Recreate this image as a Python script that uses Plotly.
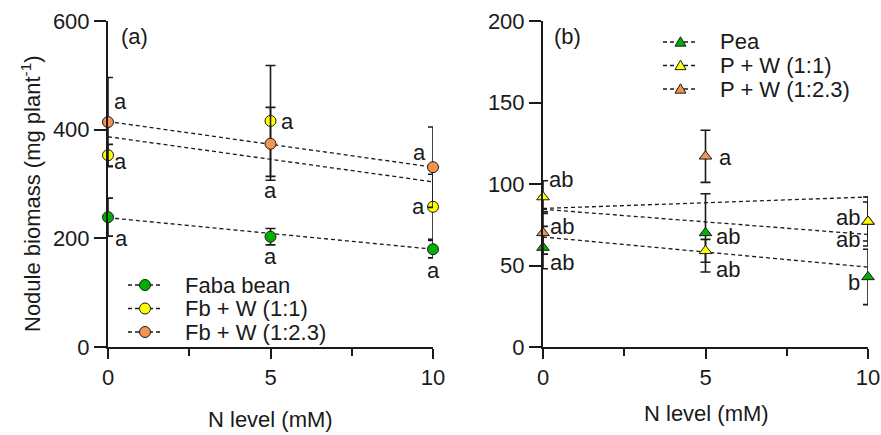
import plotly.graph_objects as go

# ---------------- data ----------------
N_levels = [0, 5, 10]

# Panel (a) nodule biomass (mg plant-1)
faba = [239, 203, 180]
faba_err = [35, 15, 16]
fbw11 = [353, 416, 258]
fbw11_err = [20, 102, 60]
fbw123 = [414, 374, 331]
fbw123_err = [82, 67, 74]

# Panel (b)
pea = [61, 70, 43]
pea_err = [13, 24, 17]
pw11 = [92, 59, 77]
pw11_err = [10, 7, 12]
pw123 = [70, 117, 77]
pw123_err = [13, 16, 15]

# dashed trend lines (values at N = 0 and N = 10)
trend_x = [0, 10]
trend_faba = [238, 180]
trend_fbw11 = [387, 304]
trend_fbw123 = [415, 331]
trend_pea = [67.5, 49]
trend_pw11 = [84.5, 69]
trend_pw123 = [85, 92]

# significance letters
letters_faba = ["a", "a", "a"]
letters_fbw11 = ["a", "a", "a"]
letters_fbw123 = ["a", "a", "a"]
letters_pea = ["ab", "ab", "b"]
letters_pw11 = ["ab", "ab", "ab"]
letters_pw123 = ["ab", "a", "ab"]

names_a = ["Faba bean", "Fb + W (1:1)", "Fb + W (1:2.3)"]
names_b = ["Pea", "P + W (1:1)", "P + W (1:2.3)"]

# ---------------- style ----------------
PAGE_W, PAGE_H = 881, 435
OFF = 0  # page body margin is removed below
W, H = PAGE_W - OFF, PAGE_H - OFF
FONT = "Liberation Sans, Arial, sans-serif"
FS = 22
INK = "#1a1a1a"
GREEN = "#00B000"
YELLOW = "#FFFF00"
ORANGE = "#F29450"
DASH = "4px,3px"
MS = 11

# pixel layout (page pixels)
xa = (108, 433)
xb = (543, 868)
ytop, ybot = 21, 347

def px_x(p):
    return (p - OFF) / W

def px_y(p):
    return 1 - (p - OFF) / H

fig = go.Figure()

def trend(xref, yref, ys):
    fig.add_trace(go.Scatter(
        x=trend_x, y=ys, mode="lines", xaxis=xref, yaxis=yref,
        line=dict(color=INK, width=1.3, dash=DASH),
        showlegend=False, hoverinfo="skip", cliponaxis=False))

def series(xref, yref, ys, err, color, symbol, name):
    fig.add_trace(go.Scatter(
        x=N_levels, y=ys, mode="markers", xaxis=xref, yaxis=yref,
        marker=dict(color=color, size=MS, symbol=symbol,
                    line=dict(color=INK, width=1)),
        error_y=dict(type="data", array=err, visible=True, color=INK,
                     thickness=1.6, width=5),
        showlegend=False, cliponaxis=False, name=name))

# Panel (a)
trend("x", "y", trend_faba)
trend("x", "y", trend_fbw11)
trend("x", "y", trend_fbw123)
series("x", "y", faba, faba_err, GREEN, "circle", names_a[0])
series("x", "y", fbw11, fbw11_err, YELLOW, "circle", names_a[1])
series("x", "y", fbw123, fbw123_err, ORANGE, "circle", names_a[2])

# Panel (b)
trend("x2", "y2", trend_pea)
trend("x2", "y2", trend_pw11)
trend("x2", "y2", trend_pw123)
series("x2", "y2", pea, pea_err, GREEN, "triangle-up", names_b[0])
series("x2", "y2", pw123, pw123_err, ORANGE, "triangle-up", names_b[2])
series("x2", "y2", pw11, pw11_err, YELLOW, "triangle-up", names_b[1])

# ---------------- letters ----------------
annotations = []
shapes = []

def letters(xref, yref, ys, labs, offsets):
    for xv, yv, t, (dx, dy) in zip(N_levels, ys, labs, offsets):
        annotations.append(dict(
            x=xv, y=yv, xref=xref, yref=yref, text=t, showarrow=False,
            xshift=dx, yshift=-dy, font=dict(family=FONT, size=FS, color=INK),
            xanchor="center", yanchor="middle"))

letters("x", "y", faba, letters_faba, [(13, 21), (0, 20), (0, 21)])
letters("x", "y", fbw11, letters_fbw11, [(12, 6), (17, 1), (-15, 0)])
letters("x", "y", fbw123, letters_fbw123, [(12, -21), (0, 47), (-14, -15)])
letters("x2", "y2", pea, letters_pea, [(19, 15), (22, 4), (-14, 6)])
letters("x2", "y2", pw11, letters_pw11, [(18, -18), (22, 19), (-20, -4)])
letters("x2", "y2", pw123, letters_pw123, [(19, -6), (20, 1), (-20, 18)])

def text(xp, yp, t, anchor="left", angle=0):
    annotations.append(dict(x=px_x(xp), y=px_y(yp), xref="paper", yref="paper",
                            text=t, showarrow=False, xanchor=anchor, yanchor="middle",
                            textangle=angle,
                            font=dict(family=FONT, size=FS, color=INK)))

# ---------------- legends (drawn manually) ----------------
def legend_entry(x_line0, x_line1, x_text, yrow, color, symbol, name):
    shapes.append(dict(type="line", xref="paper", yref="paper",
                       x0=px_x(x_line0), x1=px_x(x_line1), y0=px_y(yrow), y1=px_y(yrow),
                       line=dict(color=INK, width=1.3, dash=DASH)))
    xc = (x_line0 + x_line1) / 2
    r = MS / 2
    if symbol == "circle":
        shapes.append(dict(type="circle", xref="paper", yref="paper",
                           x0=px_x(xc - r), x1=px_x(xc + r),
                           y0=px_y(yrow + r), y1=px_y(yrow - r),
                           fillcolor=color, line=dict(color=INK, width=1)))
    else:
        p = "M{},{} L{},{} L{},{} Z".format(
            px_x(xc - r), px_y(yrow + r * 0.75),
            px_x(xc + r), px_y(yrow + r * 0.75),
            px_x(xc), px_y(yrow - r * 0.95))
        shapes.append(dict(type="path", xref="paper", yref="paper", path=p,
                           fillcolor=color, line=dict(color=INK, width=1)))
    text(x_text, yrow, name)

rows_a = [285, 308.5, 332]
rows_b = [42, 65.5, 89]
for yrow, c, nm in zip(rows_a, [GREEN, YELLOW, ORANGE], names_a):
    legend_entry(128, 162, 183, yrow, c, "circle", nm)
for yrow, c, nm in zip(rows_b, [GREEN, YELLOW, ORANGE], names_b):
    legend_entry(663, 698, 718, yrow, c, "triangle", nm)

# panel labels
text(119, 37, "(a)")
text(552, 37, "(b)")
# axis titles
text(31, 194, "Nodule biomass (mg plant<sup>-1</sup>)", anchor="center", angle=-90)
text(270, 419, "N level (mM)", anchor="center")
text(706, 413, "N level (mM)", anchor="center")

axis_common = dict(showgrid=False, zeroline=False, showline=True, linecolor=INK,
                   linewidth=2, ticks="outside", tickcolor=INK, tickwidth=1.6,
                   tickfont=dict(family=FONT, size=FS, color=INK))

xcommon = dict(axis_common, range=[0, 10], tickvals=[0, 5, 10], ticklen=10,
               minor=dict(tickvals=[2.5, 7.5], ticks="outside", ticklen=7,
                          tickcolor=INK, tickwidth=1.6))

fig.update_layout(
    width=W, height=H,
    margin=dict(l=0, r=0, t=0, b=0, autoexpand=False),
    paper_bgcolor="white", plot_bgcolor="white",
    font=dict(family=FONT, size=FS, color=INK),
    xaxis=dict(xcommon, domain=[px_x(xa[0]), px_x(xa[1])], anchor="y"),
    yaxis=dict(axis_common, domain=[px_y(ybot), px_y(ytop)], range=[0, 600],
               tickvals=[0, 200, 400, 600], ticklen=12, anchor="x"),
    xaxis2=dict(xcommon, domain=[px_x(xb[0]), px_x(xb[1])], anchor="y2"),
    yaxis2=dict(axis_common, domain=[px_y(ybot), px_y(ytop)], range=[0, 200],
                tickvals=[0, 50, 100, 150, 200], ticklen=12, anchor="x2"),
    annotations=annotations,
    shapes=shapes,
    showlegend=False,
)

fig.write_html(
    "out.html",
    config={"displayModeBar": False},
    post_script="document.body.style.margin='0';document.body.style.overflow='hidden';",
)
